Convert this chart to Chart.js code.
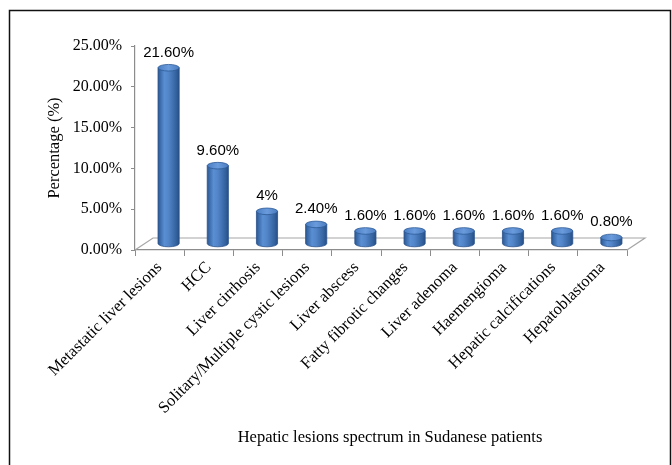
<!DOCTYPE html>
<html>
<head>
<meta charset="utf-8">
<script src="https://cdn.jsdelivr.net/npm/chart.js@4/dist/chart.umd.min.js"></script>
<style>
  html, body { margin: 0; padding: 0; background: #fff; }
  canvas { display: block; }
</style>
</head>
<body>
<canvas id="chart" width="672" height="465"></canvas>
<script>
// Hepatic lesion categories and their share of patients (%)
const categories = [
  'Metastatic liver lesions',
  'HCC',
  'Liver cirrhosis',
  'Solitary/Multiple cystic lesions',
  'Liver abscess',
  'Fatty fibrotic changes',
  'Liver adenoma',
  'Haemengioma',
  'Hepatic calcifications',
  'Hepatoblastoma'
];
const percentValues = [21.6, 9.6, 4, 2.4, 1.6, 1.6, 1.6, 1.6, 1.6, 0.8];
const valueLabels = ['21.60%', '9.60%', '4%', '2.40%', '1.60%', '1.60%', '1.60%', '1.60%', '1.60%', '0.80%'];
const yTickValues = [0, 5, 10, 15, 20, 25];
const xAxisTitle = 'Hepatic lesions spectrum in Sudanese patients';
const yAxisTitle = 'Percentage (%)';

const SERIF = "'Liberation Serif', 'Times New Roman', serif";
const SANS = "'Liberation Sans', Arial, sans-serif";
// depth of the 3-D floor; bars stand half way into it
const FLOOR_DX = 18, FLOOR_DY = -12;

function drawCylinder(ctx, x, top, base, w) {
  const rx = w / 2, ry = 3.3;
  const l = x - rx, r = x + rx;
  const g = ctx.createLinearGradient(l, 0, r, 0);
  g.addColorStop(0, '#2b5894');
  g.addColorStop(0.3, '#5a8fd3');
  g.addColorStop(0.5, '#5284c8');
  g.addColorStop(0.85, '#34639f');
  g.addColorStop(1, '#264f88');
  ctx.beginPath();
  ctx.moveTo(l, top);
  ctx.lineTo(l, base);
  ctx.ellipse(x, base, rx, ry, 0, Math.PI, 0, true);
  ctx.lineTo(r, top);
  ctx.closePath();
  ctx.fillStyle = g;
  ctx.fill();
  ctx.lineWidth = 0.8;
  ctx.strokeStyle = '#2a5189';
  ctx.stroke();
  // top cap
  ctx.beginPath();
  ctx.ellipse(x, top, rx, ry, 0, 0, Math.PI * 2);
  const gt = ctx.createLinearGradient(l, 0, r, 0);
  gt.addColorStop(0, '#4a7ec4');
  gt.addColorStop(0.5, '#6a9bdc');
  gt.addColorStop(1, '#4a7cc0');
  ctx.fillStyle = gt;
  ctx.fill();
  ctx.strokeStyle = '#2d5a96';
  ctx.stroke();
}

const framePlugin = {
  id: 'frame',
  beforeDraw(chart) {
    const ctx = chart.ctx;
    ctx.save();
    ctx.fillStyle = '#fff';
    ctx.fillRect(0, 0, chart.width, chart.height);
    ctx.strokeStyle = '#111';
    ctx.lineWidth = 1.5;
    ctx.beginPath();
    ctx.moveTo(9.5, chart.height + 2);
    ctx.lineTo(9.5, 10.5);
    ctx.lineTo(670.5, 10.5);
    ctx.lineTo(670.5, chart.height + 2);
    ctx.stroke();
    ctx.restore();
  },
  afterDraw(chart) {
    // category axis title, centred under the floor including its depth
    const { left, right } = chart.chartArea;
    const ctx = chart.ctx;
    ctx.save();
    ctx.fillStyle = '#000';
    ctx.font = '16.5px ' + SERIF;
    ctx.textAlign = 'center';
    ctx.textBaseline = 'middle';
    ctx.fillText(xAxisTitle, (left + right + FLOOR_DX) / 2, 438);
    ctx.restore();
  }
};

const cylinderPlugin = {
  id: 'cylinders',
  beforeDatasetsDraw(chart) {
    // 3-D floor under the bars
    const { left, right, bottom } = chart.chartArea;
    const ctx = chart.ctx;
    ctx.save();
    ctx.beginPath();
    ctx.moveTo(left, bottom);
    ctx.lineTo(left + FLOOR_DX, bottom + FLOOR_DY);
    ctx.lineTo(right + FLOOR_DX, bottom + FLOOR_DY);
    ctx.lineTo(right, bottom);
    ctx.strokeStyle = '#a6a6a6';
    ctx.lineWidth = 1.2;
    ctx.stroke();
    ctx.restore();
  },
  afterDatasetsDraw(chart) {
    const ctx = chart.ctx;
    const meta = chart.getDatasetMeta(0);
    ctx.save();
    ctx.translate(FLOOR_DX / 2, FLOOR_DY / 2);
    meta.data.forEach((bar, i) => {
      const p = bar.getProps(['x', 'y', 'base', 'width'], true);
      drawCylinder(ctx, p.x, p.y, p.base, p.width);
      ctx.fillStyle = '#000';
      ctx.font = '15px ' + SANS;
      ctx.textAlign = 'center';
      ctx.textBaseline = 'alphabetic';
      ctx.fillText(valueLabels[i], p.x, p.y - 11);
    });
    ctx.restore();
  }
};

new Chart(document.getElementById('chart'), {
  type: 'bar',
  data: {
    labels: categories,
    datasets: [{
      label: yAxisTitle,
      data: percentValues,
      backgroundColor: 'rgba(0,0,0,0)',
      borderWidth: 0,
      barPercentage: 0.43,
      categoryPercentage: 1
    }]
  },
  options: {
    responsive: false,
    animation: false,
    events: [],
    layout: { padding: { top: 46, right: 45, left: 0, bottom: 0 } },
    plugins: {
      legend: { display: false },
      tooltip: { enabled: false },
      title: { display: false }
    },
    scales: {
      x: {
        afterFit(scale) { scale.height = 215; },
        border: { display: true, color: '#8c8c8c', width: 1.2 },
        grid: { display: true, drawOnChartArea: false, drawTicks: true, tickLength: 6, color: '#8c8c8c', offset: true },
        ticks: {
          autoSkip: false, minRotation: 45, maxRotation: 45, padding: 2,
          color: '#000', font: { family: SERIF, size: 16.5 }
        },
        title: { display: false }
      },
      y: {
        min: 0, max: 25,
        afterFit(scale) { scale.width = 135; },
        afterBuildTicks(scale) { scale.ticks = yTickValues.map(v => ({ value: v })); },
        border: { display: true, color: '#8c8c8c', width: 1.2 },
        grid: { display: true, drawOnChartArea: false, drawTicks: true, tickLength: 4, color: '#8c8c8c' },
        ticks: {
          padding: 9, color: '#000', font: { family: SERIF, size: 16 },
          callback: v => v.toFixed(2) + '%'
        },
        title: {
          display: true,
          text: yAxisTitle,
          color: '#000',
          font: { family: SERIF, size: 16.5 },
          padding: { top: 45, bottom: 0 }
        }
      }
    }
  },
  plugins: [framePlugin, cylinderPlugin]
});
</script>
</body>
</html>
